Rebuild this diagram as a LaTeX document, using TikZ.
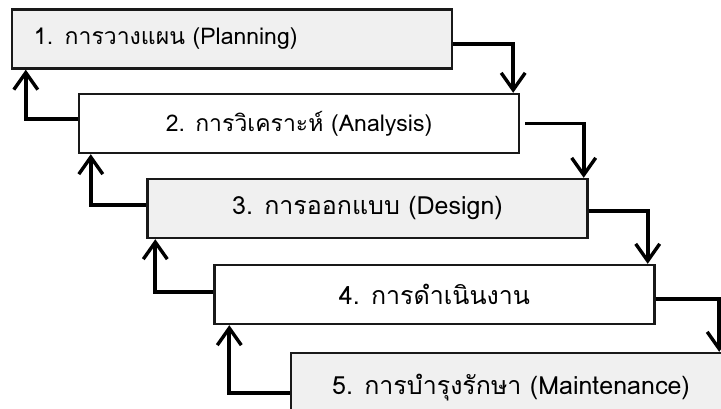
\documentclass[tikz,border=0pt]{standalone}
\usepackage{fontspec}
\setmainfont[Script=Thai]{Loma}
\usetikzlibrary{arrows.meta}
\definecolor{boxgray}{HTML}{F0F0F0}
\tikzstyle{stage}=[draw=black!90, line width=2.4pt, minimum width=440pt, minimum height=59pt, inner sep=0pt, font=\fontsize{23}{26}\selectfont]
\tikzstyle{big_stage}=[stage, font=\fontsize{25}{28}\selectfont]
\tikzstyle{flow}=[line width=3.8pt, -{Straight Barb[length=17pt, width=24pt, line width=3.4pt]}]

\begin{document}
\begin{tikzpicture}[x=1pt, y=-1pt]
    \useasboundingbox (0,0) rectangle (721,408);

    \node (s1) at (232, 39) [stage, fill=boxgray, text width=396pt, align=left] {1. การวางแผน (Planning)};
    \node (s2) at (299, 123.5) [stage, fill=white] {2. การวิเคราะห์ (Analysis)};
    \node (s3) at (367.5, 208.5) [big_stage, fill=boxgray] {3. การออกแบบ (Design)};
    \node (s4) at (434.5, 294.5) [big_stage, fill=white] {4. การดำเนินงาน};
    \node (s5) at (511, 388) [big_stage, fill=boxgray, minimum height=70pt] {5. การบำรุงรักษา (Maintenance)};

    \draw [flow] ([yshift=-5pt]s1.east) -| ([xshift=-7pt]s2.north east);
    \draw [flow] ([xshift=5pt]s2.east) -| ([xshift=-5pt]s3.north east);
    \draw [flow] ([yshift=-2.5pt]s3.east) -| ([xshift=-8pt]s4.north east);
    \draw [flow] ([yshift=-4.5pt]s4.east) -| ([xshift=-13pt]s5.north east);

    \draw [flow] ([yshift=4.5pt]s2.west) -| ([xshift=15pt]s1.south west);
    \draw [flow] ([yshift=3.5pt]s3.west) -| ([xshift=13pt]s2.south west);
    \draw [flow] ([yshift=2.5pt]s4.west) -| ([xshift=9pt]s3.south west);
    \draw [flow] ([yshift=-5pt]s5.west) -| ([xshift=16pt]s4.south west);
  \end{tikzpicture}
\end{document}
